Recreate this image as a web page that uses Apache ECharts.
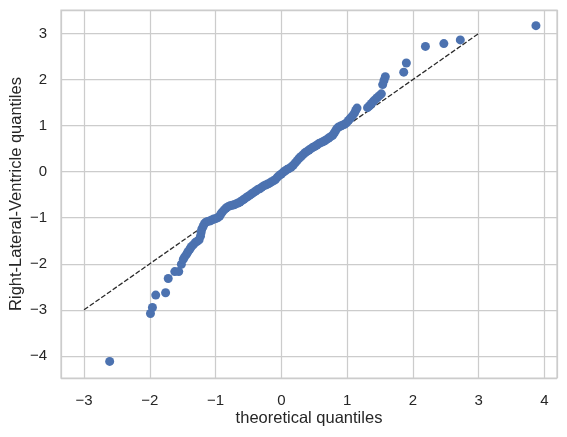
<!DOCTYPE html>
<html>
<head>
<meta charset="utf-8">
<script src="https://cdn.jsdelivr.net/npm/echarts@6/dist/echarts.min.js"></script>
<style>
  html, body { margin: 0; padding: 0; background: #fff; }
  #chart { width: 567px; height: 437px; }
</style>
</head>
<body>
<div id="chart"></div>
<script>
  // theoretical quantiles (x) and sample quantiles (y)
  const theoretical = [
    -2.61, -1.99, -1.96, -1.91, -1.76, -1.72, -1.62, -1.56, -1.52, -1.49,
    -1.47, -1.44, -1.42, -1.39, -1.37, -1.34, -1.31, -1.28, -1.25, -1.23,
    -1.22, -1.21, -1.19, -1.17, -1.15, -1.12, -1.09, -1.06, -1.03, -1.00,
    -0.97, -0.94, -0.92, -0.90, -0.87, -0.84, -0.81, -0.78, -0.75, -0.72,
    -0.69, -0.66, -0.63, -0.60, -0.57, -0.54, -0.51, -0.48, -0.45, -0.42,
    -0.39, -0.36, -0.33, -0.30, -0.27, -0.24, -0.21, -0.18, -0.15, -0.12,
    -0.09, -0.06, -0.03, 0.00, 0.03, 0.06, 0.09, 0.12, 0.15, 0.18,
    0.21, 0.24, 0.27, 0.30, 0.33, 0.36, 0.39, 0.42, 0.45, 0.48,
    0.51, 0.54, 0.57, 0.60, 0.63, 0.66, 0.69, 0.72, 0.75, 0.78,
    0.80, 0.82, 0.84, 0.87, 0.90, 0.93, 0.96, 0.99, 1.02, 1.05,
    1.08, 1.11, 1.13, 1.15, 1.31, 1.34, 1.37, 1.40, 1.43, 1.46,
    1.49, 1.52, 1.54, 1.56, 1.58, 1.86, 1.90, 2.19, 2.47, 2.72,
    3.87
  ]
  const sample = [
    -4.12, -3.08, -2.95, -2.68, -2.63, -2.32, -2.17, -2.17, -2.01, -1.90,
    -1.85, -1.79, -1.74, -1.68, -1.63, -1.59, -1.54, -1.51, -1.48, -1.40,
    -1.32, -1.25, -1.19, -1.13, -1.10, -1.08, -1.07, -1.05, -1.03, -1.02,
    -1.00, -0.97, -0.92, -0.88, -0.83, -0.79, -0.76, -0.74, -0.73, -0.72,
    -0.70, -0.68, -0.66, -0.63, -0.60, -0.57, -0.54, -0.51, -0.48, -0.45,
    -0.42, -0.39, -0.37, -0.34, -0.31, -0.29, -0.27, -0.25, -0.22, -0.20,
    -0.17, -0.12, -0.08, -0.05, -0.01, 0.02, 0.05, 0.07, 0.10, 0.14,
    0.19, 0.24, 0.29, 0.33, 0.37, 0.41, 0.44, 0.47, 0.50, 0.53,
    0.55, 0.58, 0.61, 0.63, 0.65, 0.67, 0.70, 0.73, 0.76, 0.79,
    0.83, 0.88, 0.93, 0.97, 0.99, 1.01, 1.03, 1.06, 1.11, 1.16,
    1.21, 1.27, 1.33, 1.38, 1.39, 1.43, 1.48, 1.53, 1.57, 1.61,
    1.65, 1.69, 1.89, 1.98, 2.06, 2.16, 2.36, 2.72, 2.78, 2.86,
    3.17
  ]
  // 45-degree reference line
  const refLine = [-3, 3]

  const xRange = [-3.35, 4.19]
  const yRange = [-4.48, 3.51]

  const textColor = '#262626'
  const gridColor = '#cccccc'
  const fontFamily = 'Arial, "Liberation Sans", sans-serif'
  const minus = (v) => String(Math.round(v)).replace('-', '\u2212')

  const chart = echarts.init(document.getElementById('chart'), null, { renderer: 'canvas' })

  chart.setOption({
    animation: false,
    backgroundColor: '#ffffff',
    grid: {
      left: 61,
      right: 10,
      top: 10,
      bottom: 59,
      containLabel: false,
      outerBoundsMode: 'none',
      show: true,
      borderColor: gridColor,
      borderWidth: 1.25,
      backgroundColor: 'transparent'
    },
    xAxis: {
      type: 'value',
      min: xRange[0],
      max: xRange[1],
      splitNumber: 8,
      name: 'theoretical quantiles',
      nameLocation: 'middle',
      nameGap: 32,
      nameMoveOverlap: false,
      nameTextStyle: { color: textColor, fontSize: 16.5, fontFamily },
      axisLine: { show: false },
      axisTick: { show: false },
      axisLabel: {
        color: textColor,
        fontSize: 15,
        fontFamily,
        margin: 15,
        showMinLabel: false,
        showMaxLabel: false,
        formatter: minus
      },
      splitLine: { show: true, lineStyle: { color: gridColor, width: 1.25 } }
    },
    yAxis: {
      type: 'value',
      min: yRange[0],
      max: yRange[1],
      splitNumber: 8,
      name: 'Right-Lateral-Ventricle quantiles',
      nameLocation: 'middle',
      nameGap: 36,
      nameMoveOverlap: false,
      nameTextStyle: { color: textColor, fontSize: 16.5, fontFamily },
      axisLine: { show: false },
      axisTick: { show: false },
      axisLabel: {
        color: textColor,
        fontSize: 15,
        fontFamily,
        margin: 14,
        showMinLabel: false,
        showMaxLabel: false,
        formatter: minus
      },
      splitLine: { show: true, lineStyle: { color: gridColor, width: 1.25 } }
    },
    series: [
      {
        type: 'line',
        data: refLine.map((v) => [v, v]),
        symbol: 'none',
        silent: true,
        lineStyle: { color: '#2b2b2b', width: 1.3, type: [5, 2] },
        z: 2
      },
      {
        type: 'scatter',
        data: theoretical.map((x, i) => [x, sample[i]]),
        symbol: 'circle',
        symbolSize: 9,
        itemStyle: { color: '#4C72B0', opacity: 1 },
        z: 3
      }
    ]
  })
</script>
</body>
</html>
